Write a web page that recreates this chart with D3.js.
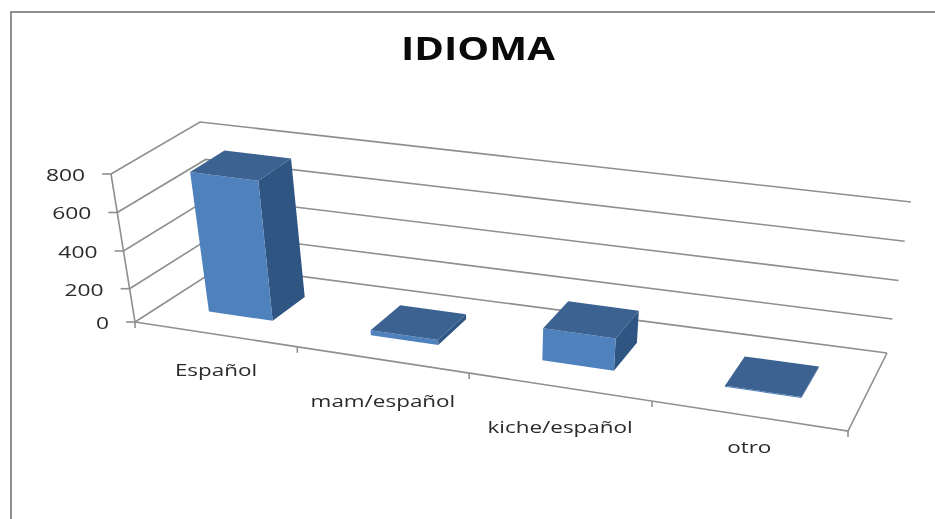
<!DOCTYPE html>
<html>
<head>
<meta charset="utf-8">
<script src="https://cdn.jsdelivr.net/npm/d3@7"></script>
<style>
  html, body { margin: 0; padding: 0; background: #fff; }
  svg { filter: blur(0.45px); }
  text { font-family: "Open Sans", sans-serif; fill: #2a2a2a; }
</style>
</head>
<body>
<svg id="chart" width="935" height="519"></svg>
<script>
// data
const title = "IDIOMA"
const categories = ["Español", "mam/español", "kiche/español", "otro"]
const values = [760, 30, 190, 6]
const valueTicks = [0, 200, 400, 600, 800]

// label nudges, the labels are staggered in the original
const labelDy = [36, 41, 40, 31]

const svg = d3.select("#chart")

// chart frame
svg.append("path")
  .attr("d", d3.line()([[11, 519], [11, 12], [935, 12]]))
  .attr("fill", "none")
  .attr("stroke", "#8e8e8e")
  .attr("stroke-width", 2)

svg.append("text")
  .attr("x", 478)
  .attr("y", 60)
  .attr("text-anchor", "middle")
  .attr("font-size", "32px")
  .attr("font-weight", "700")
  .attr("textLength", 154)
  .attr("lengthAdjust", "spacingAndGlyphs")
  .style("fill", "#0a0a0a")
  .text(title)

// scales
const uScale = d3.scaleBand().domain(categories).range([0, 1])
const hScale = d3.scaleLinear().domain(valueTicks).range([0, 0.225, 0.48, 0.74, 1])

// floor plane corners on screen, front-left, front-right, back-right, back-left
const floor = [[135, 322], [848, 431], [887, 353], [222, 266]]
// how a full-height column leans at those same corners
const lift = [[-24, -148], [24, -152], [24, -151], [-22, -144]]

// how much of the perspective to keep, the rest is flat bilinear
const PERSPECTIVE = 0.6

// unit square -> quad, plain homography
function homography(q) {
  const [p0, p1, p2, p3] = q
  const dx1 = p1[0] - p2[0], dx2 = p3[0] - p2[0], sx = p0[0] - p1[0] + p2[0] - p3[0]
  const dy1 = p1[1] - p2[1], dy2 = p3[1] - p2[1], sy = p0[1] - p1[1] + p2[1] - p3[1]
  const det = dx1 * dy2 - dx2 * dy1
  const g = (sx * dy2 - dx2 * sy) / det
  const h = (dx1 * sy - sx * dy1) / det
  const a = p1[0] - p0[0] + g * p1[0], b = p3[0] - p0[0] + h * p3[0]
  const d = p1[1] - p0[1] + g * p1[1], e = p3[1] - p0[1] + h * p3[1]
  return (u, v) => {
    const w = g * u + h * v + 1
    return [(a * u + b * v + p0[0]) / w, (d * u + e * v + p0[1]) / w]
  }
}
const floorAt = homography(floor)

function bilinear(q, u, v) {
  return d3.interpolate(d3.interpolate(q[0], q[1])(u), d3.interpolate(q[3], q[2])(u))(v)
}

function project(u, v, val) {
  const p = d3.interpolate(bilinear(floor, u, v), floorAt(u, v))(PERSPECTIVE)
  const t = hScale(val)
  const lx = bilinear(lift, u, v)
  return [p[0] + lx[0] * t, p[1] + lx[1] * t]
}

const line = d3.line()

// walls, gridlines
const walls = svg.append("g")
  .attr("fill", "none")
  .attr("stroke", "#8f8f8f")
  .attr("stroke-width", 1.6)

valueTicks.forEach(t => {
  walls.append("path").attr("d", line([project(0, 0, t), project(0, 1, t), project(1, 1, t)]))
})

// floor front + right edge
walls.append("path").attr("d", line([project(0, 0, 0), project(1, 0, 0), project(1, 1, 0)]))
// value axis
walls.append("path").attr("d", line([project(0, 0, 800), project(0, 0, 0)]))

// stretch a label sideways, the original text is wider than any font here
function stretch(sel, k) {
  sel.attr("textLength", sel.node().getComputedTextLength() * k)
    .attr("lengthAdjust", "spacingAndGlyphs")
}

// value ticks and labels
valueTicks.forEach(t => {
  const p = project(0, 0, t)
  walls.append("path").attr("d", line([[p[0] - 9, p[1]], p]))
  svg.append("text")
    .attr("x", p[0] - 26)
    .attr("y", p[1] + 7)
    .attr("text-anchor", "end")
    .attr("font-size", "17px")
    .text(t)
    .call(stretch, 1.34)
})

// category ticks
d3.range(categories.length + 1).forEach(i => {
  const p = project(i / categories.length, 0, 0)
  walls.append("path").attr("d", line([p, [p[0], p[1] + 6]]))
})

// bars
const barPad = 0.3
const vFront = 0.3
const vBack = 0.7
const bars = svg.append("g").selectAll("g")
  .data(categories)
  .join("g")

bars.each(function (d, i) {
  const g = d3.select(this)
  const u0 = uScale(d) + uScale.bandwidth() * barPad
  const u1 = uScale(d) + uScale.bandwidth() * (1 - barPad)
  const val = values[i]
  const poly = pts => line(pts) + "Z"
  g.append("path").attr("fill", "#2f5582")
    .attr("d", poly([project(u1, vFront, 0), project(u1, vBack, 0), project(u1, vBack, val), project(u1, vFront, val)]))
  g.append("path").attr("fill", "#4f81bd")
    .attr("d", poly([project(u0, vFront, 0), project(u1, vFront, 0), project(u1, vFront, val), project(u0, vFront, val)]))
  g.append("path").attr("fill", "#3b6290")
    .attr("d", poly([project(u0, vFront, val), project(u1, vFront, val), project(u1, vBack, val), project(u0, vBack, val)]))
})

// category labels
categories.forEach((c, i) => {
  const p = project(uScale(c) + uScale.bandwidth() / 2, 0, 0)
  svg.append("text")
    .attr("x", p[0] + 1)
    .attr("y", p[1] + labelDy[i] + 6)
    .attr("text-anchor", "middle")
    .attr("font-size", "17px")
    .text(c)
    .call(stretch, 1.32)
})
</script>
</body>
</html>
